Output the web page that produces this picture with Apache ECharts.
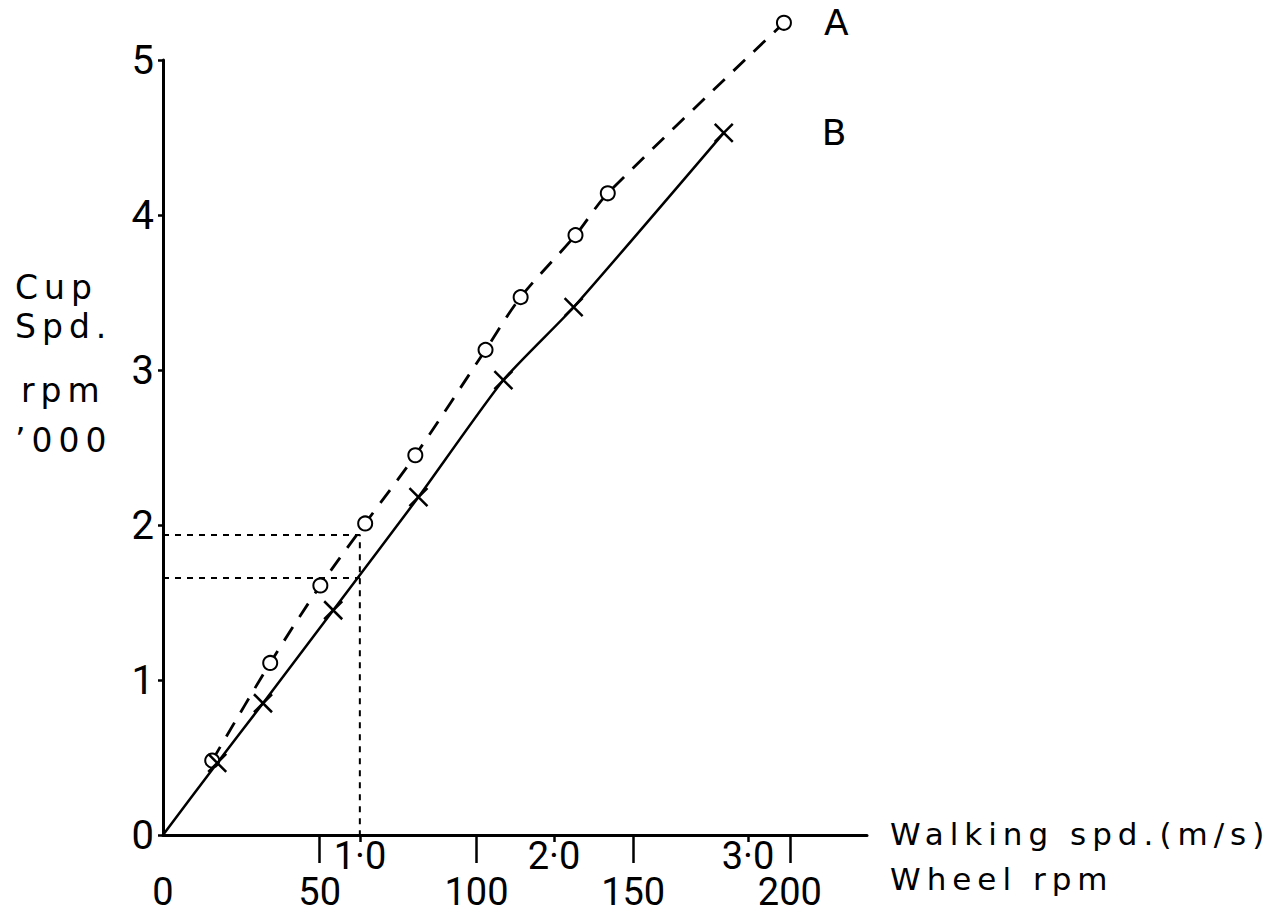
<!DOCTYPE html>
<html><head><meta charset="utf-8">
<script src="https://cdn.jsdelivr.net/npm/echarts@6/dist/echarts.min.js"></script>
<style>
html,body{margin:0;padding:0;background:#fff;}
#c{width:1277px;height:915px;}
#c text[style*="DejaVu"]{letter-spacing:6px;}
</style></head><body><div id="c"></div>
<script>
// ---- data ----
const cupSpeedTicks = [0, 1, 2, 3, 4, 5];          // Cup spd. rpm '000
const wheelRpmTicks = [0, 50, 100, 150, 200];       // Wheel rpm
const walkingSpeedTicks = [1, 2, 3];                // Walking spd. (m/s)
const walkingSpeedLabels = ['1·0', '2·0', '3·0'];

const curveA_wheelRpm = [15.7, 34.2, 50.2, 64.5, 80.5, 102.9, 114.1, 131.6, 141.9, 198.1];
const curveA_cupSpeed = [0.48, 1.11, 1.61, 2.01, 2.45, 3.13, 3.47, 3.87, 4.14, 5.24];
const curveB_wheelRpm = [0, 17.3, 31.9, 54.3, 81.5, 108.6, 131.0, 178.9];
const curveB_cupSpeed = [0, 0.465, 0.85, 1.45, 2.18, 2.935, 3.405, 4.53];

const guideWheelRpm = 62.8;   // = 1.0 m/s walking speed
const guideCupA = 1.935;
const guideCupB = 1.658;

const wheelRpmMax = 224.6;
const walkingMin = -0.0155, walkingMax = 3.613;
const cupMax = 5;

// ---- chart ----
const chart = echarts.init(document.getElementById('c'), null, {renderer: 'svg'});
const numFont = 'Roboto';
const nameFont = "'DejaVu Sans'";

const dataA = curveA_wheelRpm.map((x, i) => [x, curveA_cupSpeed[i]]);
const dataB = curveB_wheelRpm.map((x, i) =>
  (x === 0 && curveB_cupSpeed[i] === 0) ? {value: [x, curveB_cupSpeed[i]], symbol: 'none'} : [x, curveB_cupSpeed[i]]);

const crossPath = 'path://M0,0L20,20M20,0L0,20';

chart.setOption({
  animation: false,
  backgroundColor: '#fff',
  grid: {left: 163, right: 410, top: 60, bottom: 80, containLabel: false},
  xAxis: [{
    type: 'value', min: 0, max: wheelRpmMax,
    axisLine: {show: true, lineStyle: {color: '#000', width: 3}},
    axisTick: {show: true, inside: false, length: 28, customValues: wheelRpmTicks.slice(1),
               lineStyle: {color: '#000', width: 2.5}},
    axisLabel: {show: true, customValues: wheelRpmTicks, margin: 38, color: '#000',
                fontFamily: numFont, fontSize: 38},
    splitLine: {show: false}
  }, {
    type: 'value', min: walkingMin, max: walkingMax, position: 'bottom',
    axisLine: {show: false},
    axisTick: {show: true, length: 7, customValues: walkingSpeedTicks,
               lineStyle: {color: '#000', width: 2.5}},
    axisLabel: {show: true, customValues: walkingSpeedTicks, margin: 2, color: '#000',
                fontFamily: numFont, fontSize: 38,
                formatter: v => walkingSpeedLabels[walkingSpeedTicks.indexOf(Math.round(v))] || ''},
    splitLine: {show: false}
  }],
  yAxis: {
    type: 'value', min: 0, max: cupMax, interval: 1,
    axisLine: {show: true, lineStyle: {color: '#000', width: 3}},
    axisTick: {show: true, length: 5, lineStyle: {color: '#000', width: 2.5}},
    axisLabel: {color: '#000', fontFamily: numFont, fontSize: 40, margin: 9,
                formatter: v => cupSpeedTicks.indexOf(v) >= 0 ? String(v) : ''},
    splitLine: {show: false}
  },
  graphic: [
    {type: 'text', x: 15, y: 287, style: {text: 'Cup', font: `33px ${nameFont}`, fill: '#000', verticalAlign: 'middle'}},
    {type: 'text', x: 15, y: 326, style: {text: 'Spd.', font: `33px ${nameFont}`, fill: '#000', verticalAlign: 'middle'}},
    {type: 'text', x: 21, y: 390, style: {text: 'rpm', font: `33px ${nameFont}`, fill: '#000', verticalAlign: 'middle'}},
    {type: 'text', x: 15, y: 440, style: {text: '’000', font: `33px ${nameFont}`, fill: '#000', verticalAlign: 'middle'}},
    {type: 'text', x: 890, y: 834, style: {text: 'Walking spd.(m/s)', font: `31px ${nameFont}`, fill: '#000', verticalAlign: 'middle'}},
    {type: 'text', x: 890, y: 879, style: {text: 'Wheel rpm', font: `31px ${nameFont}`, fill: '#000', verticalAlign: 'middle'}}
  ],
  series: [{
    name: 'guide upper', type: 'line', xAxisIndex: 0, symbol: 'none', silent: true,
    data: [[0, guideCupA], [guideWheelRpm, guideCupA], [guideWheelRpm, 0]],
    lineStyle: {color: '#000', width: 2, type: [6, 6]}
  }, {
    name: 'guide lower', type: 'line', xAxisIndex: 0, symbol: 'none', silent: true,
    data: [[0, guideCupB], [guideWheelRpm, guideCupB]],
    lineStyle: {color: '#000', width: 2, type: [6, 6]}
  }, {
    name: 'A', type: 'line', xAxisIndex: 0, clip: false, smooth: 0.3,
    data: dataA,
    symbol: 'emptyCircle', symbolSize: 14,
    itemStyle: {color: '#000', borderColor: '#000', borderWidth: 2.5},
    lineStyle: {color: '#000', width: 2.8, type: [16, 12]},
    endLabel: {show: true, formatter: 'A', distance: 40, color: '#000', fontFamily: nameFont, fontSize: 36}
  }, {
    name: 'B', type: 'line', xAxisIndex: 0, clip: false, smooth: 0.2,
    data: dataB,
    symbol: crossPath, symbolSize: 18,
    itemStyle: {color: '#000', borderColor: '#000', borderWidth: 2.5},
    lineStyle: {color: '#000', width: 2.5},
    endLabel: {show: true, formatter: 'B', distance: 98, color: '#000', fontFamily: nameFont, fontSize: 36}
  }]
});
</script></body></html>
